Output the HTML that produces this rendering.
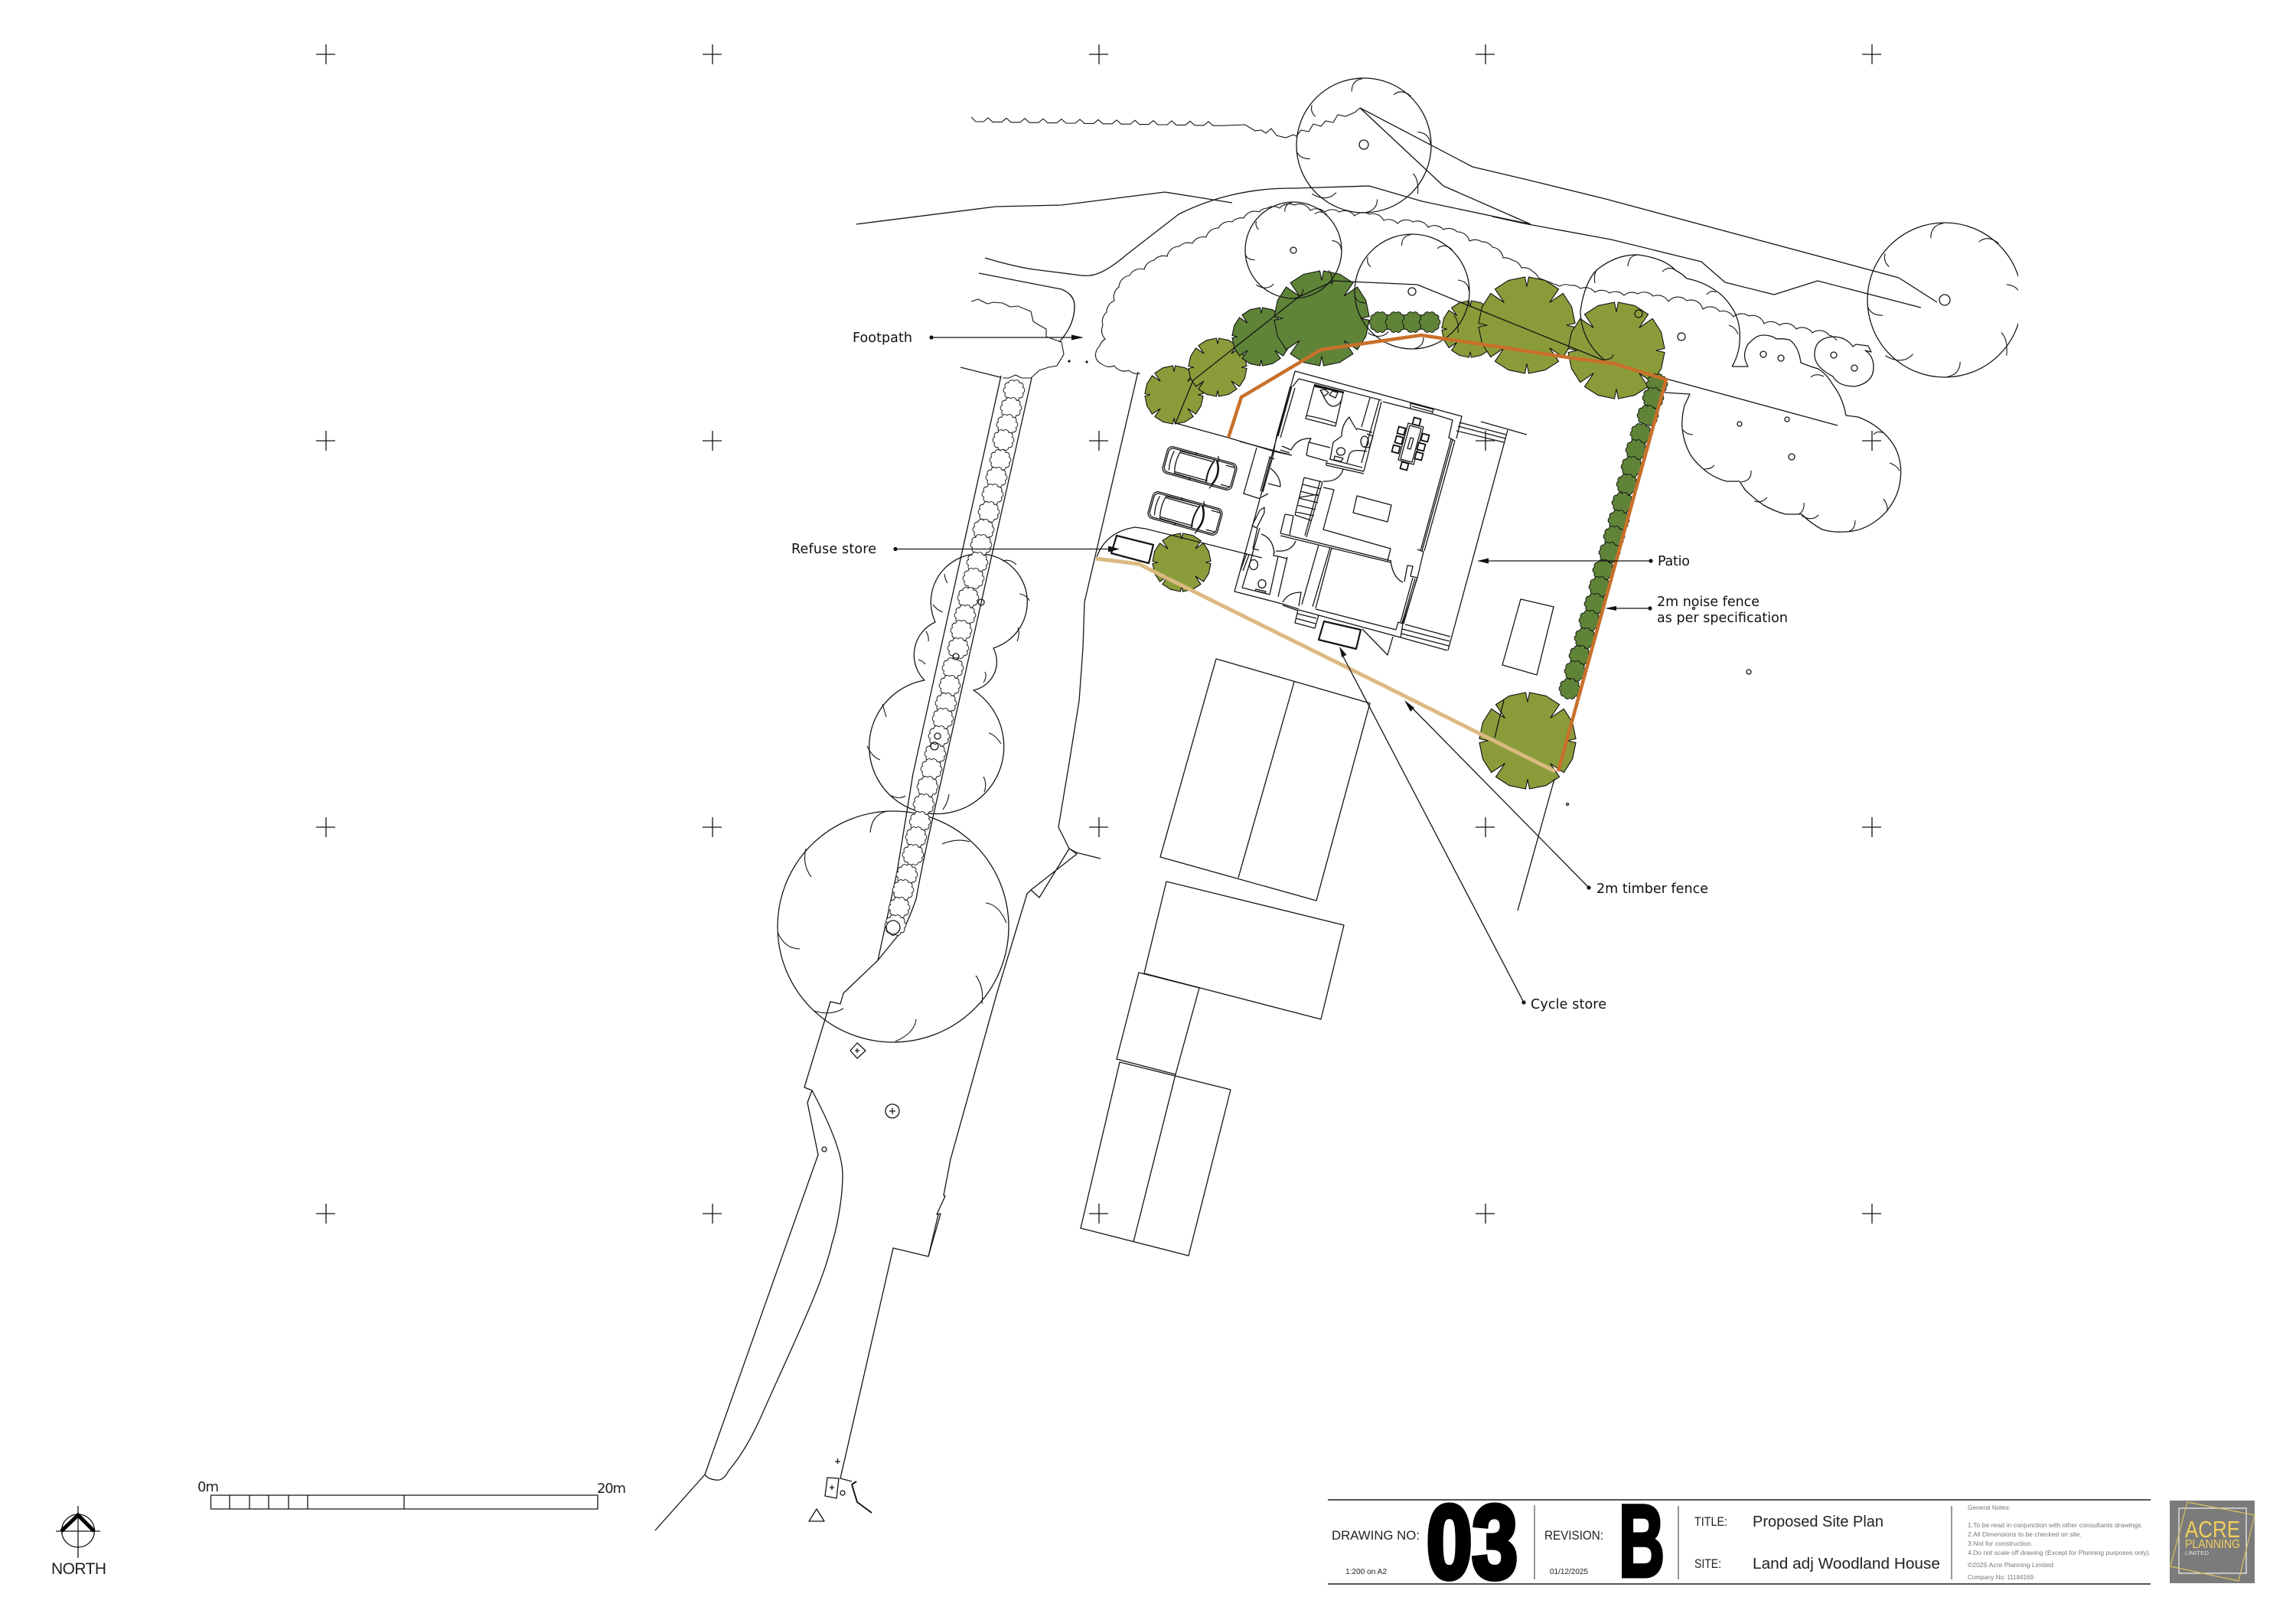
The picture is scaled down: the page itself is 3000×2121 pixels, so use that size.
<!DOCTYPE html>
<html lang="en"><head><meta charset="utf-8"><title>Proposed Site Plan</title>
<style>
html,body{margin:0;padding:0;background:#fff}
svg{display:block}
.l{fill:none;stroke:#151515;stroke-width:1.3;stroke-linejoin:round}
.h{fill:none;stroke:#151515;stroke-width:1.1}
.t{font-family:"DejaVu Sans",sans-serif;font-size:17.5px;fill:#111}
.s{font-family:"Liberation Sans",sans-serif;fill:#222}
.n{font-family:"Liberation Sans",sans-serif;font-size:8.5px;fill:#777}
</style></head><body>
<svg xmlns="http://www.w3.org/2000/svg" width="3000" height="2121" viewBox="0 0 3000 2121">
<defs>
<path id="gt" vector-effect="non-scaling-stroke" stroke="#111" stroke-width="1.1" d="M-4,-100L0,-80L4,-100L38,-93L66,-75L47,-47L75,-66L93,-38L100,-4L82,0L100,4L93,38L75,66L47,47L66,75L38,93L4,100L0,80L-4,100L-38,93L-66,75L-47,47L-75,66L-93,38L-100,4L-82,0L-100,-4L-93,-38L-75,-66L-47,-47L-66,-75L-38,-93Z"/>
<path id="bl" stroke="#111" stroke-width=".9" d="M0,-12A4 4 0 0 1 7,-9.7A4 4 0 0 1 11.4,-3.7A4 4 0 0 1 11.4,3.7A4 4 0 0 1 7,9.7A4 4 0 0 1 0,12A4 4 0 0 1 -7,9.7A4 4 0 0 1 -11.4,3.7A4 4 0 0 1 -11.4,-3.7A4 4 0 0 1 -7,-9.7A4 4 0 0 1 0,-12Z"/>
<path id="tk" fill="none" stroke="#151515" stroke-width="1.1" vector-effect="non-scaling-stroke" d="M-2,-99Q-18,-97 -18,-80M70,-73Q56,-85 44,-75M99,-1Q98,-18 80,-20M80,72Q82,50 73,42M1,100Q20,97 20,80M-77,72Q-55,85 -41,70M-100,8Q-96,20 -80,20M-77,-60Q-80,-50 -72,-43"/>
<g id="car" fill="none" stroke="#151515" stroke-width="1.3">
<rect x="-47" y="-18" width="94" height="36" rx="7"/>
<rect x="-45" y="-16" width="90" height="32" rx="6"/>
<path d="M-30,-15Q-34,0 -30,15M-38,-13Q-41,0 -38,13M-30,-15L17,-16M-30,15L17,16M-30,-13L14,-13M-30,13L14,13"/>
<path d="M16,-15Q10,0 13,15" stroke-width="2"/>
<path d="M19,-16Q29,0 21,16" stroke-width="2.6"/>
<path d="M32,-13H45M32,13H45M-10,-19L-8,-15M-10,19L-8,15M19,-22L22,-16M19,22L22,16"/>
</g>
<rect id="ch" x="-4.5" y="-4.5" width="9" height="9" fill="#fff" stroke="#111" stroke-width="1.8"/>
<clipPath id="cr"><rect x="2300" y="250" width="337" height="300"/></clipPath>
</defs>
<rect width="3000" height="2121" fill="#fff"/>

<!-- crosses -->
<path class="l" stroke-width="1" d="M413,71h25M426,58v26M918,71h25M931,58v26M1423,71h25M1436,58v26M1928,71h25M1941,58v26M2433,71h25M2446,58v26
M413,576h25M426,563v26M918,576h25M931,563v26M1423,576h25M1436,563v26M1928,576h25M1941,563v26M2433,576h25M2446,563v26
M413,1081h25M426,1068v26M918,1081h25M931,1068v26M1423,1081h25M1436,1068v26M1928,1081h25M1941,1068v26M2433,1081h25M2446,1068v26
M413,1586h25M426,1573v26M918,1586h25M931,1573v26M1423,1586h25M1436,1573v26M1928,1586h25M1941,1573v26M2433,1586h25M2446,1573v26"/>

<!-- top zigzag hedge -->
<path class="h" d="M1269,153l6,6h10l6,-5l6,5.4h12l6,-5l6,5.4h12l6,-5l6,5.4h12l6,-5l6,5.4h12l6,-5l6,5.4h12l6,-5l6,5.4h12l6,-5l6,5.4h12l6,-5l6,5.4h12l6,-5l6,5.4h12l6,-5l6,5.4h12l6,-5l6,5.4h12l6,-5l6,5.4h12l6,-5l6,5.4h10L1627,163L1640,171L1648,170L1654,174L1661,168L1668,177L1680,180L1690,176L1694,178L1700,170L1710,172L1716,162L1726,165L1732,158L1742,160L1748,150L1758,152L1770,147L1777,141"/>
<!-- road and path lines -->
<path class="l" d="M1777,141L1924,218L2000,236L2098,260L2481,363L2531,395"/>
<path class="l" d="M1777,141L1886,243L2000,293"/>
<path class="l" d="M1950,283L1991,292L2105,313L2223,342L2254,369L2318,385L2375,367L2510,402"/>
<path class="l" d="M1119,293L1301,270L1387,268L1522,251L1610,265"/>
<path class="l" d="M1287,337Q1330,350 1358,353L1413,360Q1425,361 1433,358Q1450,352 1473,332L1540,280Q1610,245 1691,246L1789,243L1858,263L2000,293"/>
<path class="l" d="M1279,357L1387,378Q1404,385 1404,400Q1404,425 1384,447"/>
<!-- left partial scallop -->
<path class="h" d="M1269,394L1278,391L1290,397L1298,395L1310,396L1320,401L1330,400L1347,407L1350,420L1358,425L1367,430L1367,440L1387,447L1390,463L1381,478L1370,480L1358,484L1347,494L1335,494L1327,490L1318,494L1310,494"/>
<path class="l" d="M1255,480L1307,493"/>
<!-- big scalloped canopy -->
<path class="h" d="M1490,488A16 16 0 0 1 1475,484A16 16 0 0 1 1456,478A16 16 0 0 1 1440,476A16 16 0 0 1 1432,468A16 16 0 0 1 1437,452A16 16 0 0 1 1444,443A16 16 0 0 1 1441,425A16 16 0 0 1 1446,408A16 16 0 0 1 1456,393A16 16 0 0 1 1462,375A16 16 0 0 1 1476,360A16 16 0 0 1 1495,352A16 16 0 0 1 1508,340A16 16 0 0 1 1525,335A16 16 0 0 1 1541,322A16 16 0 0 1 1558,318A16 16 0 0 1 1576,310A16 16 0 0 1 1592,298A16 16 0 0 1 1610,290A16 16 0 0 1 1625,285A16 16 0 0 1 1645,277A16 16 0 0 1 1656,272A16 16 0 0 1 1672,272A16 16 0 0 1 1691,268A16 16 0 0 1 1712,275A16 16 0 0 1 1731,277A16 16 0 0 1 1750,277A16 16 0 0 1 1770,282A16 16 0 0 1 1789,280A16 16 0 0 1 1808,288A16 16 0 0 1 1826,292A16 16 0 0 1 1846,290A16 16 0 0 1 1866,297A16 16 0 0 1 1886,300A16 16 0 0 1 1904,303A16 16 0 0 1 1920,315A16 16 0 0 1 1936,316A16 16 0 0 1 1950,323A16 16 0 0 1 1964,337A16 16 0 0 1 1976,340A16 16 0 0 1 1988,350A16 16 0 0 1 2003,355A16 16 0 0 1 2010,363L2038,374A16 16 0 0 1 2052,373A16 16 0 0 1 2065,377A16 16 0 0 1 2084,382A16 16 0 0 1 2103,383A16 16 0 0 1 2122,386A16 16 0 0 1 2140,384A16 16 0 0 1 2160,387A16 16 0 0 1 2180,394A16 16 0 0 1 2204,393A16 16 0 0 1 2225,404A16 16 0 0 1 2247,407A16 16 0 0 1 2265,414A16 16 0 0 1 2285,413A16 16 0 0 1 2305,423A16 16 0 0 1 2325,425A16 16 0 0 1 2347,430A16 16 0 0 1 2368,435A16 16 0 0 1 2390,438A16 16 0 0 1 2400,445"/>

<!-- green trees -->
<g fill="#8a9c3a">
<use href="#gt" transform="translate(1534,516) scale(.38)"/>
<use href="#gt" transform="translate(1591,480) scale(.38)"/>
<use href="#gt" transform="translate(1921,430) scale(.37)"/>
<use href="#gt" transform="translate(1995,425) scale(.63)"/>
<use href="#gt" transform="translate(2112,458) scale(.63)"/>
<use href="#gt" transform="translate(1996,968) scale(.63)"/>
<use href="#gt" transform="translate(1544,735) scale(.38)"/>
</g>
<g fill="#5f8438">
<use href="#gt" transform="translate(1648,440) scale(.38)"/>
<use href="#gt" transform="translate(1727,416) scale(.62)"/>
</g>
<g fill="#5f8438">
<use href="#bl" x="1803" y="421"/><use href="#bl" x="1824" y="421"/><use href="#bl" x="1846" y="421"/><use href="#bl" x="1868" y="421"/>
<use href="#bl" x="2165" y="502"/><use href="#bl" x="2160" y="520"/><use href="#bl" x="2153" y="543"/><use href="#bl" x="2144" y="567"/><use href="#bl" x="2138" y="588"/><use href="#bl" x="2132" y="610"/><use href="#bl" x="2126" y="633"/><use href="#bl" x="2120" y="657"/><use href="#bl" x="2115" y="680"/><use href="#bl" x="2109" y="701"/><use href="#bl" x="2103" y="722"/><use href="#bl" x="2095" y="745"/><use href="#bl" x="2090" y="767"/><use href="#bl" x="2084" y="789"/><use href="#bl" x="2077" y="811"/><use href="#bl" x="2071" y="834"/><use href="#bl" x="2064" y="857"/><use href="#bl" x="2058" y="877"/><use href="#bl" x="2051" y="900"/>
</g>

<!-- open trees -->
<g class="l">
<circle class="l" cx="1782" cy="190" r="88"/><circle class="l" cx="1782" cy="189" r="6"/>
<circle class="l" cx="1690" cy="327" r="63"/><circle class="l" cx="1690" cy="327" r="4"/>
<circle class="l" cx="1845" cy="381" r="75"/><circle class="l" cx="1845" cy="381" r="5"/>
<circle class="l" cx="1167" cy="1211" r="151"/>
<circle class="l" cx="2197" cy="440" r="5"/><circle class="l" cx="2141" cy="410" r="5"/>
<circle class="l" cx="2273" cy="554" r="3"/><circle class="l" cx="2335" cy="548" r="3"/><circle class="l" cx="2341" cy="597" r="4"/>
<circle class="l" cx="2304" cy="463" r="4"/><circle class="l" cx="2327" cy="468" r="4"/><circle class="l" cx="2396" cy="464" r="4"/><circle class="l" cx="2423" cy="481" r="4"/>
<circle class="l" cx="2285" cy="878" r="3"/><circle class="l" cx="2048" cy="1051" r="1.5"/><circle class="l" cx="2213" cy="795" r="1.5"/>
</g>
<use href="#tk" transform="translate(1782,190) scale(.88)"/>
<use href="#tk" transform="translate(1690,327) scale(.63)"/>
<use href="#tk" transform="translate(1845,381) scale(.75)"/>
<path class="h" d="M1137,1088Q1139,1064 1160,1060M1231,1103Q1250,1095 1267,1100M1288,1180Q1305,1182 1315,1206M1275,1275Q1286,1290 1283,1312M1197,1332Q1195,1350 1170,1361M1102,1318Q1085,1328 1063,1321M1045,1240Q1025,1240 1016,1218M1060,1146Q1048,1130 1053,1109"/>
<g clip-path="url(#cr)">
<circle class="l" cx="2541" cy="392" r="101"/><circle class="l" cx="2541" cy="392" r="7"/>
<use href="#tk" transform="translate(2541,392) scale(1.01)"/>
</g>
<!-- lobed tree centre left -->
<path class="l" d="M1208,889A88 88 0 1 0 1272,902A38 38 0 0 0 1298,847A63 63 0 1 0 1222,813A47 47 0 0 0 1208,889Z"/>
<path class="h" d="M1310,733Q1320,730 1328,738M1332,776Q1342,778 1345,785M1330,820Q1333,828 1329,838M1234,750Q1235,758 1238,762M1219,790Q1225,798 1232,800M1200,862Q1206,864 1209,868M1287,878Q1290,884 1285,892M1292,958Q1300,960 1308,972M1285,1015Q1290,1025 1286,1035M1240,1038Q1238,1050 1232,1058M1165,1040Q1175,1045 1183,1040M1133,975Q1140,990 1150,993M1153,920Q1156,930 1158,937M1210,825Q1214,832 1213,838"/>
<!-- right lobed cluster -->
<path class="l" d="M2263,479A70 70 0 0 0 2273,447Q2275,425 2266,407Q2255,388 2242,380Q2225,368 2204,364Q2198,358 2189,353Q2175,338 2141,333Q2112,332 2086,353Q2070,370 2065,407Q2066,445 2096,470M2263,479H2284Q2278,468 2280,460Q2282,450 2287,447Q2295,438 2304,438Q2315,438 2321,443Q2330,442 2338,444Q2350,452 2353,474Q2368,480 2376,482Q2388,490 2395,503Q2408,520 2412,543Q2422,544 2428,545Q2446,552 2457,562Q2476,578 2481,597Q2485,612 2483,627Q2481,645 2471,660Q2462,674 2448,683Q2430,695 2409,695Q2395,696 2381,692Q2366,684 2354,672Q2344,672 2333,672Q2318,668 2304,660Q2290,650 2280,640L2273,629H2256Q2244,626 2232,618Q2216,606 2208,593Q2200,578 2198,560Q2197,545 2201,530L2208,515L2175,513"/>
<path class="l" d="M2395,440Q2370,442 2371,465Q2372,480 2395,492Q2402,505 2424,505Q2448,500 2448,480Q2448,465 2437,458L2445,460L2441,452L2425,450L2421,453Q2412,440 2395,440Z"/>
<path class="h" d="M2127,348Q2128,333 2141,333M2172,355Q2180,347 2189,353M2084,370Q2082,360 2086,353M2230,385Q2236,378 2242,382M2259,425Q2268,428 2271,437M2108,463Q2107,470 2096,470M2366,493Q2372,487 2383,492M2469,605Q2478,608 2482,615M2461,652Q2467,660 2466,668M2424,680Q2424,692 2416,694M2376,673Q2368,682 2354,674M2357,657Q2358,668 2350,672M2309,650Q2302,658 2292,655M2288,615Q2289,628 2275,630M2240,608Q2236,613 2227,613M2212,568Q2204,568 2199,562M2448,568Q2452,562 2462,566"/>
<path class="l" d="M2177,495L2401,556"/>

<!-- lines over trees -->
<path class="l" d="M1536,553L1559,497L1697,388L1743,367L1852,372L1950,412L2098,472L2177,497"/>
<path class="l" d="M1536,553L1605,572L1665,590L1688,595"/>
<!-- driveway boundary -->
<path class="l" d="M1487,486L1417,787L1415,847L1410,916L1397,997L1383,1081L1397,1109L1406,1114L1438,1122"/>
<path class="l" d="M1433,728Q1445,695 1483,689L1497,691L1649,729"/>
<path class="l" d="M1397,1109L1358,1173L1347,1163L1407,1116L1397,1109M1347,1163L1342,1168L1302,1300L1242,1515L1233,1562L1235,1563L1224,1587L1229,1586L1213,1642L1167,1631L1098,1932L1113,1936"/>
<path class="l" d="M1226,1587L1213,1642"/>
<!-- footpath strip -->
<path class="l" d="M1308,491L1193,1011L1172,1140L1147,1255M1348,494L1217,1077Q1205,1130 1197,1175Q1190,1195 1182,1212L1147,1255L1102,1298L1098,1312L1085,1309L1051,1421L1061,1425L1055,1441L1069,1509L921,1927L856,2000"/>
<path class="l" d="M1061,1425C1085,1470 1101,1510 1101,1535C1101,1570 1092,1610 1087,1625C1075,1680 1030,1770 995,1850Q975,1895 952,1922Q945,1936 935,1934Q925,1933 921,1927"/>
<g fill="#fff">
<use href="#bl" x="1325" y="510"/><use href="#bl" x="1321" y="533"/><use href="#bl" x="1316" y="555"/><use href="#bl" x="1311" y="575"/><use href="#bl" x="1307" y="601"/><use href="#bl" x="1302" y="624"/><use href="#bl" x="1297" y="646"/><use href="#bl" x="1292" y="669"/><use href="#bl" x="1285" y="692"/><use href="#bl" x="1282" y="712"/><use href="#bl" x="1277" y="735"/><use href="#bl" x="1272" y="756"/><use href="#bl" x="1265" y="781"/><use href="#bl" x="1261" y="804"/><use href="#bl" x="1256" y="824"/><use href="#bl" x="1252" y="847"/><use href="#bl" x="1245" y="873"/><use href="#bl" x="1241" y="896"/><use href="#bl" x="1236" y="919"/><use href="#bl" x="1232" y="939"/><use href="#bl" x="1227" y="962"/><use href="#bl" x="1222" y="985"/><use href="#bl" x="1217" y="1005"/><use href="#bl" x="1212" y="1028"/><use href="#bl" x="1207" y="1051"/><use href="#bl" x="1202" y="1074"/><use href="#bl" x="1197" y="1094"/><use href="#bl" x="1193" y="1117"/><use href="#bl" x="1185" y="1143"/><use href="#bl" x="1180" y="1163"/><use href="#bl" x="1175" y="1186"/><use href="#bl" x="1170" y="1209"/>
</g>
<circle class="l" cx="1167" cy="1212" r="9" fill="#fff"/><circle class="l" cx="1282" cy="787" r="4"/><circle class="l" cx="1249" cy="858" r="4"/><circle class="l" cx="1225" cy="962" r="4"/><circle class="l" cx="1221" cy="975" r="5"/>

<!-- small site features -->
<path class="l" d="M1120,1363L1131,1373L1120,1383L1111,1373ZM1117,1373h6M1120,1370v6"/>
<circle class="l" cx="1166" cy="1452" r="9"/><path class="l" d="M1162,1452h8M1166,1448v8"/>
<circle class="l" cx="1077" cy="1502" r="3"/>
<path class="l" d="M1091,1910h7M1094.5,1906v7M1081,1931L1096,1932L1093,1958L1078,1955ZM1084,1944h6M1087,1941v6M1067,1972L1057,1988H1077Z"/>
<circle class="l" cx="1101" cy="1951" r="3"/>
<path class="l" style="stroke-width:2" d="M1113,1940L1120,1963L1139,1977M1113,1940L1119,1936"/>
<circle cx="1397" cy="472" r="1.6" fill="#111"/><circle cx="1420" cy="473" r="1.6" fill="#111"/>

<!-- outbuildings -->
<path class="l" d="M1589,861L1790,919L1720,1177L1516,1120ZM1691,891L1618,1147"/>
<path class="l" d="M1524,1152L1756,1209L1726,1332L1495,1272Z"/>
<path class="l" d="M1488,1271L1567,1291L1536,1404L1459,1384Z"/>
<path class="l" d="M1463,1388L1608,1424L1553,1641L1412,1605ZM1536,1404L1481,1623"/>
<path class="l" d="M1987,783L2030,793L2008,882L1963,869Z"/>
<path class="l" d="M2031,1018L1983,1190M1965,915L1953,964"/>
<path class="l" style="stroke-width:2.2" d="M1459,700L1507,712L1501,736L1452,723Z"/>
<path class="l" style="stroke-width:2.2" d="M1730,812L1778,823L1772,848L1723,836Z"/>

<!-- cars -->
<use href="#car" transform="translate(1567.5,612) rotate(15.5)"/>
<use href="#car" transform="translate(1548.5,671) rotate(15.5)"/>

<!-- house -->
<path class="l" d="M1692,485L1910,544L1903,573M1692,485L1613,773L1675,789M1697,495L1805,523M1807,525L1843,534M1872,541L1898,549L1893,572L1901,576
M1843,527L1873,535L1871,541L1843,534ZM1845,531L1871,538
M1697,495L1689,505M1688,505L1670,570M1692,507L1673,572M1686,505L1668,570M1668,570L1663,597M1675,583L1687,588M1673,588L1685,592
M1790,520L1779,558M1805,525L1782,616M1802,523L1779,605M1773,560L1793,565M1733,605L1782,616M1733,608L1782,619M1737,600L1780,611
M1738,600L1742,578L1753,570M1753,570Q1753,555 1763,545Q1768,555 1773,562
M1710,578L1738,585M1707,595L1735,603M1710,578L1707,595M1687,588Q1695,572 1713,573L1710,578
M1907,552L1968,568M1905,557L1967,573M1903,563L1965,578M1935,551L1995,568M1970,562L1892,850
M1836,816L1895,832M1832,822L1894,838M1831,828L1893,844M1830,833L1891,850
M1896,574L1856,720M1898,575L1858,720M1901,576L1861,720M1852,718L1860,721L1852,755L1843,753L1846,740L1839,739L1835,760M1817,733Q1820,755 1833,761
M1851,757L1834,815M1849,756L1832,814M1846,755L1830,813M1852,755L1833,815L1827,813L1824,823M1719,796L1824,823M1697,797L1830,833L1833,815
M1673,697L1818,733M1673,700L1817,735M1728,630L1707,702M1725,628L1705,700
M1704,624L1728,630M1704,624L1692,673M1702,633L1726,639M1699,642L1723,648M1697,651L1722,657M1695,660L1719,666M1693,669L1717,674M1692,673L1713,680M1698,650L1722,646
M1679,672L1673,697M1690,674L1685,699M1679,672L1690,674
M1729,637L1743,640L1729,692L1817,717L1813,733M1773,648L1818,660L1813,682L1768,670Z
M1755,613Q1750,630 1729,629M1733,604V608M1660,612Q1673,622 1673,636M1657,632L1673,636
M1663,597L1650,643M1659,598L1647,642M1665,600L1658,597M1642,585L1625,645L1647,652M1620,577L1688,595
M1657,645L1648,650M1652,663L1646,667L1636,687L1642,690L1652,670ZM1646,690L1636,725M1643,690L1637,717L1645,719
M1621,745L1629,723M1624,746L1632,725M1623,768L1637,723M1623,768L1659,777L1670,727M1682,728L1670,780M1670,727L1682,730M1665,720L1664,726L1670,727
M1648,698Q1663,703 1665,723M1667,720Q1687,722 1693,707
M1676,787Q1683,774 1700,774L1697,792M1675,789L1697,796M1676,791L1696,798
M1723,712L1701,790M1715,793L1738,715M1719,795L1740,716
M1696,797L1692,814L1718,821L1723,804M1695,802L1720,808M1693,808L1719,815
M1780,822L1813,856L1820,832"/>
<!-- house fittings -->
<path class="l" d="M1717,505L1755,513L1745,557L1706,547ZM1707,543Q1725,546 1746,553M1727,512Q1735,535 1746,530Q1752,528 1754,518M1725,510L1730,518L1736,513L1731,509ZM1737,516L1745,520L1748,513L1741,511Z"/>
<path class="l" style="stroke-width:2.6" d="M1717,503L1756,513"/>
<ellipse class="l" cx="1783" cy="577" rx="5" ry="7"/><ellipse class="l" cx="1752" cy="590" rx="5.5" ry="5"/><path class="l" d="M1744,596L1755,599L1752,603L1743,601ZM1760,605L1763,594Q1766,586 1786,590"/>
<path class="l" d="M1786,567L1794,570L1789,585L1781,584"/>
<ellipse class="l" cx="1638" cy="738" rx="5.5" ry="6.5"/><ellipse class="l" cx="1649" cy="763" rx="5" ry="5.5"/><path class="l" d="M1641,770L1654,773L1653,775L1640,772Z"/>
<path class="l" d="M1840,553L1860,558L1847,607L1827,601ZM1842,556L1857,560L1845,604L1830,600ZM1843,572L1847,573L1843,587L1839,586Z"/>
<use href="#ch" transform="translate(1851,551) rotate(15)"/><use href="#ch" transform="translate(1835,609) rotate(15)"/><use href="#ch" transform="translate(1831,563) rotate(15)"/><use href="#ch" transform="translate(1828,575) rotate(15)"/><use href="#ch" transform="translate(1824,587) rotate(15)"/><use href="#ch" transform="translate(1862,572) rotate(15)"/><use href="#ch" transform="translate(1857,584) rotate(15)"/><use href="#ch" transform="translate(1854,596) rotate(15)"/>

<!-- fences -->
<polyline fill="none" stroke="#dcb981" stroke-width="5" points="1432,730 1488,737 1574,780 1810,897 2032,1008"/>
<polyline fill="none" stroke="#c8702a" stroke-width="4.5" stroke-linejoin="miter" points="1605,572 1622,519 1726,457 1857,438 1950,452 2048,467 2108,475 2177,496 2036,1008"/>

<!-- leaders -->
<path class="l" d="M1217,441H1402M1170,717.5H1452M2157,733H1942M2156,795H2110M2076,1160L1845,925M1991,1310L1755,858"/>
<g fill="#111">
<circle cx="1217" cy="441" r="2.6"/><circle cx="1170" cy="717.5" r="2.6"/><circle cx="2157" cy="733" r="2.6"/><circle cx="2156" cy="795" r="2.6"/><circle cx="2076" cy="1160" r="2.6"/><circle cx="1991" cy="1310" r="2.6"/>
<polygon points="1416,441 1400,437.5 1400,444.5"/><polygon points="1463,717.5 1448,713.5 1448,721.5"/><polygon points="1930,733 1945,729.5 1945,736.5"/><polygon points="2097,795 2112,792 2112,798"/><polygon points="1835,915 1848,925 1843,930"/><polygon points="1750,845 1759.5,855.8 1753.3,859"/>
</g>
<text class="t" x="1114" y="447" textLength="78">Footpath</text>
<text class="t" x="1034" y="723" textLength="111">Refuse store</text>
<text class="t" x="2166" y="739" textLength="42">Patio</text>
<text class="t" x="2165" y="792" textLength="134">2m noise fence</text>
<text class="t" x="2165" y="813" textLength="171">as per specification</text>
<text class="t" x="2086" y="1167" textLength="146">2m timber fence</text>
<text class="t" x="2000" y="1318" textLength="99">Cycle store</text>

<!-- scale bar -->
<rect class="l" x="275.5" y="1954" width="505.5" height="18"/>
<path class="l" d="M300,1954v18M326,1954v18M351,1954v18M377,1954v18M402,1954v18M528,1954v18"/>
<text class="s" x="258" y="1949" font-size="18" textLength="28" style="font-family:'DejaVu Sans',sans-serif">0m</text>
<text class="s" x="780" y="1951" font-size="18" textLength="38" style="font-family:'DejaVu Sans',sans-serif">20m</text>
<!-- north -->
<circle class="l" cx="102" cy="2000.5" r="21.5"/>
<path class="l" d="M102,1968V2036M73,2001H131"/>
<path fill="none" stroke="#000" stroke-width="5" d="M80,2001L102,1980L123,2001"/>
<text class="s" x="67" y="2057" font-size="21" textLength="72" fill="#111">NORTH</text>

<!-- title block -->
<path fill="none" stroke="#555" stroke-width="2" d="M1735,1960H2810M1735,2070H2810"/>
<path fill="none" stroke="#333" stroke-width="1" d="M2005,1967V2064M2193,1968V2064M2550,1968V2064"/>
<text class="s" x="1740" y="2012" font-size="17" textLength="115" lengthAdjust="spacingAndGlyphs">DRAWING NO:</text>
<text x="1864" y="2062" font-family="'Liberation Sans',sans-serif" font-weight="700" font-size="136" fill="#000" stroke="#000" stroke-width="7" textLength="119" lengthAdjust="spacingAndGlyphs">03</text>
<text class="s" x="2018" y="2012" font-size="17" textLength="77" lengthAdjust="spacingAndGlyphs">REVISION:</text>
<text x="2115" y="2060" font-family="'Liberation Sans',sans-serif" font-weight="700" font-size="134" fill="#000" stroke="#000" stroke-width="5" textLength="60" lengthAdjust="spacingAndGlyphs">B</text>
<text class="s" x="1758" y="2057" font-size="10.5" textLength="54" lengthAdjust="spacingAndGlyphs">1:200 on A2</text>
<text class="s" x="2025" y="2057" font-size="10.5" textLength="50" lengthAdjust="spacingAndGlyphs">01/12/2025</text>
<text class="s" x="2214" y="1994" font-size="17" textLength="43" lengthAdjust="spacingAndGlyphs">TITLE:</text>
<text class="s" x="2214" y="2049" font-size="17" textLength="35" lengthAdjust="spacingAndGlyphs">SITE:</text>
<text class="s" x="2290" y="1995" font-size="20.5" textLength="171" lengthAdjust="spacingAndGlyphs">Proposed Site Plan</text>
<text class="s" x="2290" y="2050" font-size="20.5" textLength="245" lengthAdjust="spacingAndGlyphs">Land adj Woodland House</text>
<text class="n" x="2571" y="1973" textLength="56" lengthAdjust="spacingAndGlyphs">General Notes:</text>
<text class="n" x="2571" y="1996" textLength="229" lengthAdjust="spacingAndGlyphs">1.To be read in conjunction with other consultants drawings.</text>
<text class="n" x="2571" y="2008" textLength="149" lengthAdjust="spacingAndGlyphs">2.All Dimensions to be checked on site.</text>
<text class="n" x="2571" y="2020" textLength="85" lengthAdjust="spacingAndGlyphs">3.Not for construction.</text>
<text class="n" x="2571" y="2032" textLength="239" lengthAdjust="spacingAndGlyphs">4.Do not scale off drawing (Except for Planning purposes only).</text>
<text class="n" x="2571" y="2048" textLength="112" lengthAdjust="spacingAndGlyphs">©2025 Acre Planning Limited</text>
<text class="n" x="2571" y="2064" textLength="86" lengthAdjust="spacingAndGlyphs">Company No: 11184169</text>
<!-- logo -->
<rect x="2835" y="1961" width="111" height="108" fill="#7b7b7b"/>
<rect x="2847" y="1971" width="88" height="85" fill="none" stroke="#dcdcdc" stroke-width="1.5"/>
<polygon points="2858,1963 2946,1980 2925,2066 2836,2047" fill="none" stroke="#d9c060" stroke-width="1.2"/>
<text x="2855" y="2009" font-family="'Liberation Sans',sans-serif" font-size="31" fill="#f0cf5e" textLength="72" lengthAdjust="spacingAndGlyphs">ACRE</text>
<text x="2855" y="2023" font-family="'Liberation Sans',sans-serif" font-size="15.5" fill="#f0cf5e" textLength="72" lengthAdjust="spacingAndGlyphs">PLANNING</text>
<text x="2855" y="2032" font-family="'Liberation Sans',sans-serif" font-size="7" fill="#e4e4e4" textLength="31" lengthAdjust="spacingAndGlyphs">LIMITED</text>
</svg>
</body></html>
